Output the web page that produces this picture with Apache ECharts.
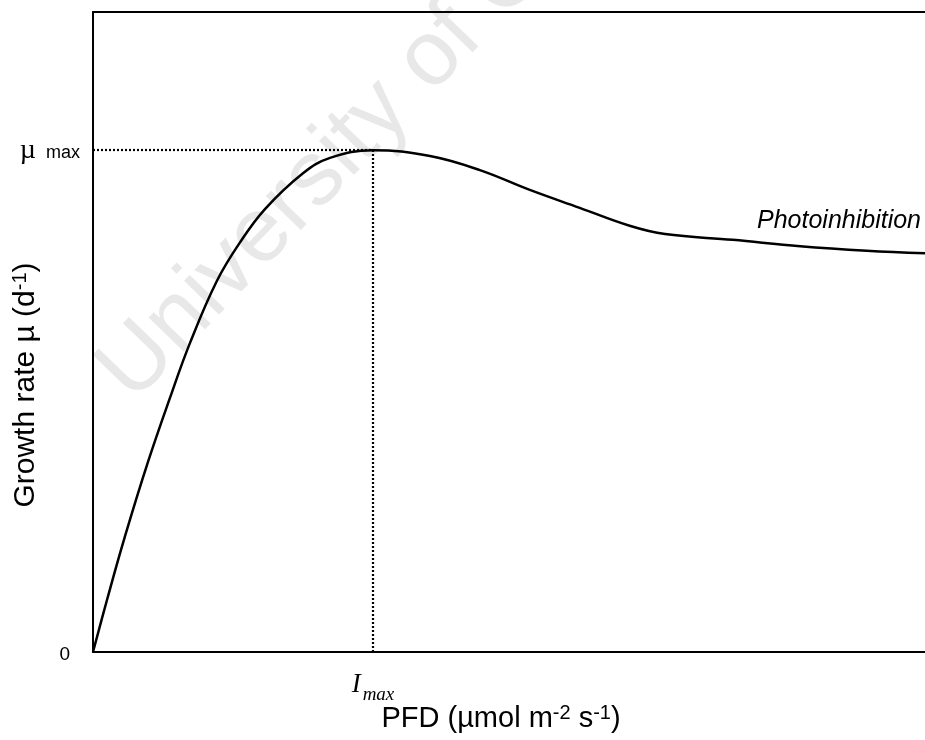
<!DOCTYPE html>
<html>
<head>
<meta charset="utf-8">
<script src="https://cdn.jsdelivr.net/npm/echarts@6/dist/echarts.min.js"></script>
<style>html,body{margin:0;padding:0;background:#fff}#c{width:925px;height:740px}</style>
</head>
<body>
<div id="c"></div>
<script>
// PFD (relative units, 0-100) and growth rate (relative units, 0-100)
const pfd    = [0, 1.68, 3.85, 6.61, 9.25, 11.66, 14.9, 17.67, 20.67, 25.24, 28.49, 33.65, 40.5, 46.5, 52.5, 58.5, 64.5, 68.75, 76.9, 85.0, 93.0, 100];
const growth = [0, 8.13, 18.1, 29.7, 39.7, 48.3, 58.0, 64.0, 69.2, 74.8, 77.2, 78.4, 77.5, 75.3, 72.2, 69.4, 66.6, 65.3, 64.4, 63.4, 62.7, 62.3];
const muMax = 78.4;
const iMax = 33.65;
const yTickValues = [0, muMax];
const xTickValues = [iMax];

const chart = echarts.init(document.getElementById('c'), null, {renderer: 'canvas'});
const sans = '"Liberation Sans", Arial, sans-serif';
const serif = '"Liberation Serif", "Times New Roman", serif';

chart.setOption({
  animation: false,
  backgroundColor: '#fff',
  grid: {left: 93, top: 12, right: 0, bottom: 88, containLabel: false, outerBoundsMode: 'none'},
  xAxis: [{
    type: 'value', min: 0, max: 100, position: 'bottom',
    axisLine: {show: true, onZero: false, lineStyle: {color: '#000', width: 2}},
    axisTick: {show: false}, splitLine: {show: false},
    axisLabel: {
      show: true, customValues: xTickValues, margin: 13,
      formatter: () => '{i|I}{s|max}',
      rich: {
        i: {fontFamily: serif, fontStyle: 'italic', fontSize: 27, color: '#000'},
        s: {fontFamily: serif, fontStyle: 'italic', fontSize: 19, color: '#000', padding: [20, 0, 0, 2]}
      }
    },
    name: 'PFD (µmol m{sup|-2} s{sup|-1})',
    nameLocation: 'middle', nameGap: 51, nameMoveOverlap: false,
    nameTextStyle: {
      fontFamily: sans, fontSize: 29, color: '#000', padding: [0, 16, 0, 0],
      rich: {sup: {fontFamily: sans, fontSize: 20, color: '#000', padding: [0, 0, 12, 0]}}
    }
  }, {
    type: 'value', min: 0, max: 100, position: 'top',
    axisLine: {show: true, onZero: false, lineStyle: {color: '#000', width: 2}},
    axisTick: {show: false}, splitLine: {show: false}, axisLabel: {show: false}
  }],
  yAxis: {
    type: 'value', min: 0, max: 100,
    axisLine: {show: true, onZero: false, lineStyle: {color: '#000', width: 2}},
    axisTick: {show: false}, splitLine: {show: false},
    axisLabel: {
      show: true, customValues: yTickValues, margin: 13,
      formatter: v => v === 0 ? '{n|0}' : '{m|µ}{s|  max}',
      rich: {
        n: {fontFamily: sans, fontSize: 19, color: '#000', padding: [6, 10, 0, 0]},
        m: {fontFamily: serif, fontSize: 28, color: '#000'},
        s: {fontFamily: sans, fontSize: 18, color: '#000', padding: [6, 0, 0, 0]}
      }
    },
    name: 'Growth rate µ (d{sup|-1})',
    nameLocation: 'middle', nameGap: 51, nameRotate: 90, nameMoveOverlap: false,
    nameTextStyle: {
      fontFamily: sans, fontSize: 30, color: '#000', padding: [0, 106, 0, 0],
      rich: {sup: {fontFamily: sans, fontSize: 20, color: '#000', padding: [0, 0, 12, 0]}}
    }
  },
  graphic: [{
    type: 'text', z: -10, silent: true,
    x: 148, y: 418, rotation: 46 * Math.PI / 180,
    style: {text: 'University of Cape Town', fontFamily: sans, fontSize: 92, fill: '#e8e8e8', textAlign: 'left', textVerticalAlign: 'bottom'}
  }, {
    type: 'text', silent: true, x: 757, y: 209,
    style: {text: 'Photoinhibition', fontFamily: sans, fontStyle: 'italic', fontSize: 25, fill: '#000', textAlign: 'left', textVerticalAlign: 'top'}
  }],
  series: [{
    type: 'line', xAxisIndex: 0,
    data: pfd.map((x, i) => [x, growth[i]]),
    smooth: 0.4, showSymbol: false, symbol: 'none',
    lineStyle: {color: '#000', width: 2.5},
    z: 5,
    markLine: {
      silent: true, symbol: 'none', animation: false,
      label: {show: false},
      lineStyle: {color: '#000', width: 2.2, type: [2, 2]},
      data: [
        [{coord: [0, muMax]}, {coord: [iMax, muMax]}],
        [{coord: [iMax, 0]}, {coord: [iMax, muMax]}]
      ]
    }
  }]
});
</script>
</body>
</html>
